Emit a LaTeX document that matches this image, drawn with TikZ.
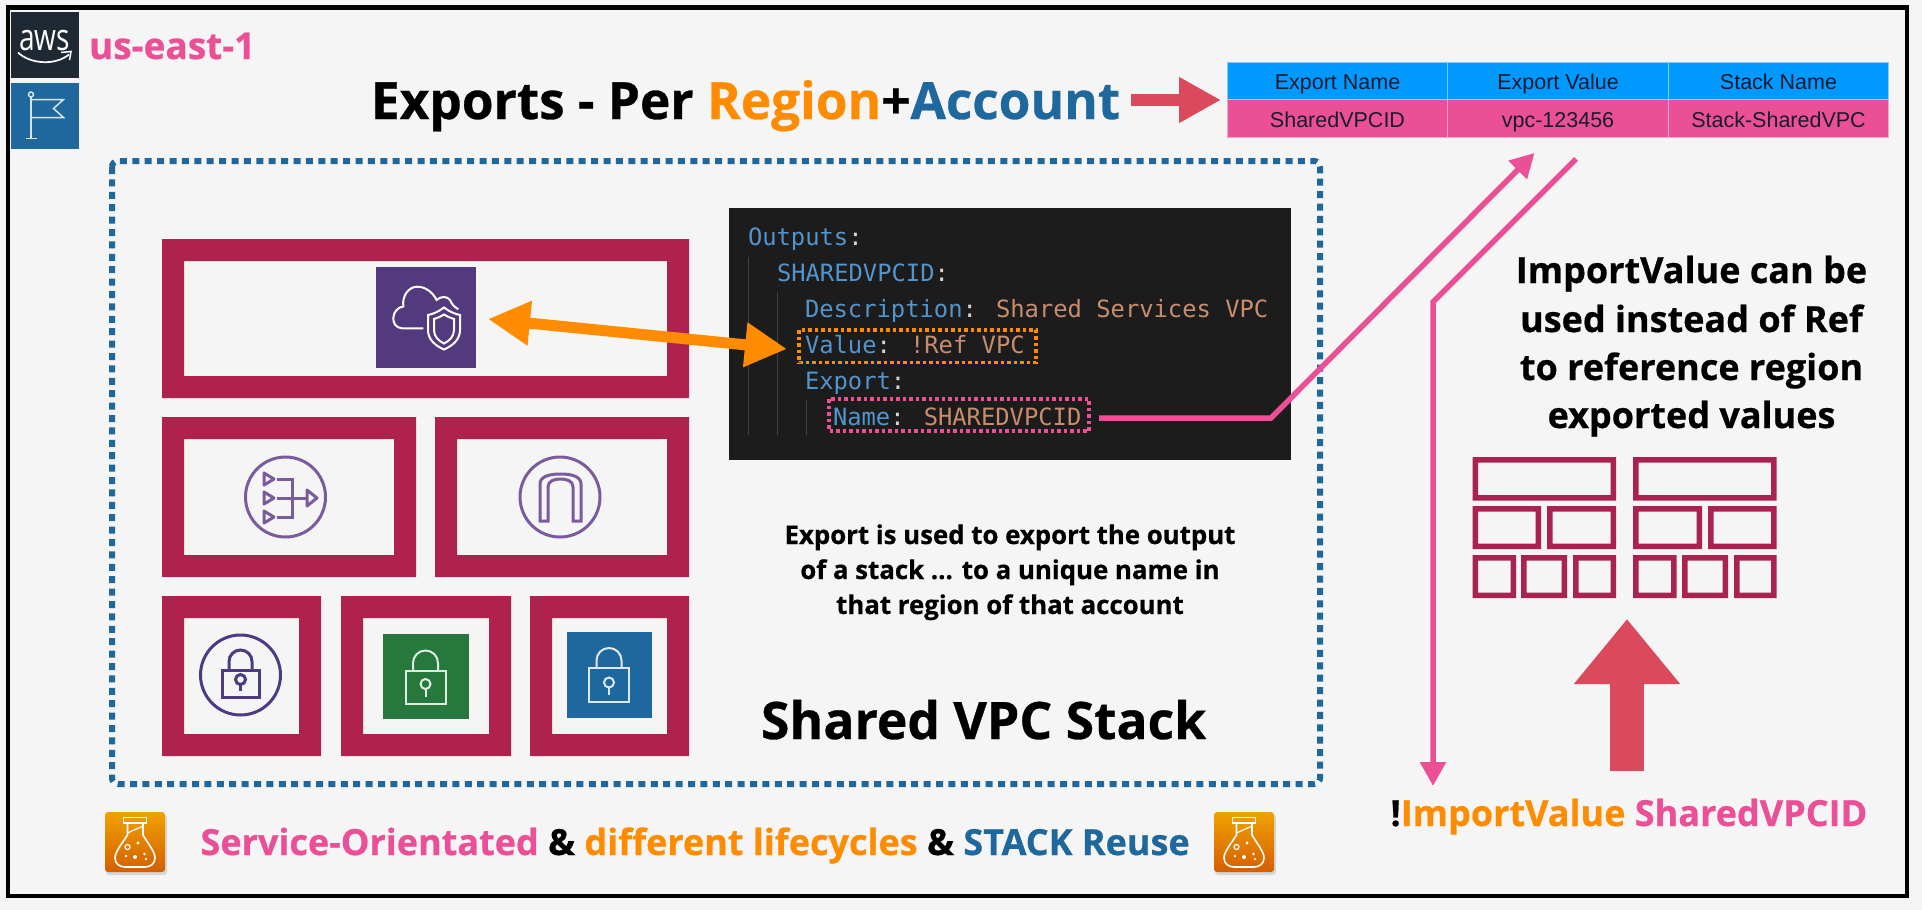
\documentclass[tikz,border=0pt]{standalone}
\usepackage{fontspec}
\usetikzlibrary{arrows.meta}
\setmainfont{Open Sans}[BoldFeatures={FakeBold=0.6}]
\newfontfamily\codefont{DejaVu Sans Mono}
\newfontfamily\tablefont{Liberation Sans}
\newcommand\fsz[1]{\fontsize{#1pt}{#1pt}\selectfont}
\definecolor{pagebg}{HTML}{F5F5F5}
\definecolor{awspink}{HTML}{EB5097}
\definecolor{awsorange}{HTML}{FF8C00}
\definecolor{awsblue}{HTML}{1F689E}
\definecolor{crimson}{HTML}{B0224E}
\definecolor{gridcrimson}{HTML}{AA2350}
\definecolor{arrowred}{HTML}{DB495C}
\definecolor{vpcpurple}{HTML}{533A7E}
\definecolor{iconpurple}{HTML}{7A5C9E}
\definecolor{lockpurple}{HTML}{4D3A82}
\definecolor{lockgreen}{HTML}{26783C}
\definecolor{codebg}{HTML}{1C1C1C}
\definecolor{codekey}{HTML}{5294CC}
\definecolor{codeval}{HTML}{C98D6E}
\definecolor{codecolon}{HTML}{D4D4D4}
\definecolor{guide}{HTML}{404040}
\definecolor{awsdark}{HTML}{1F2933}
\definecolor{headblue}{HTML}{0099FF}
\definecolor{tabletext}{HTML}{1A1A2A}
\definecolor{flasktop}{HTML}{F0A200}
\definecolor{flaskbot}{HTML}{D45E00}
\tikzset{
  lbl/.style={inner sep=0pt,outer sep=0pt,anchor=base west,font=\bfseries},
  mid/.style={inner sep=0pt,outer sep=0pt,anchor=base,align=center,font=\bfseries},
  code/.style={inner sep=0pt,outer sep=0pt,anchor=base west,font=\codefont\fsz{23.8}},
  headcell/.style={draw=white!50!headblue,line width=1pt,fill=headblue,minimum width=220.5pt,minimum height=37.5pt,inner sep=0pt,text height=20pt,text depth=3.4pt,font=\tablefont\fsz{21.5},text=tabletext},
  rowcell/.style={draw=white!50!awspink,line width=1pt,fill=awspink,minimum width=220.5pt,minimum height=37.5pt,inner sep=0pt,text height=20pt,text depth=3pt,font=\tablefont\fsz{21.5},text=tabletext},
  pinkline/.style={draw=awspink,line width=5.5pt},
  pinktip/.style={-{Triangle[length=24pt,width=25pt]}},
  flat/.style={draw=arrowred},
  dotblue/.style={draw=awsblue,line width=6pt,dash pattern=on 7pt off 5.4pt,rounded corners=6pt},
  icon/.style={draw=iconpurple,line width=3pt},
  whiteicon/.style={draw=white,line width=2pt},
}
% ringbox: colour, x1,y1,x2,y2, thickness
\newcommand\ringbox[6]{\fill[#1,even odd rule] (#2,#3) rectangle (#4,#5)
  (#2+#6,#3+#6) rectangle (#4-#6,#5-#6);}
% lockicon: style, centre x, body half width, shackle half width, shackle top, body top, body bottom, keyhole y, stem bottom
\newcommand\lockicon[9]{%
  \draw[#1] (#2-#3,#6) rectangle (#2+#3,#7);
  \draw[#1] (#2-#4,#6) -- (#2-#4,#5+#4) arc[start angle=180,end angle=0,radius=#4 pt] -- (#2+#4,#6);
  \draw[#1] (#2,#8) circle[radius=5pt];
  \draw[#1] (#2,#8+5) -- (#2,#9);
}
% flask icon at centre
\newcommand\flask[3]{%
  \fill[black,opacity=.12,rounded corners=3pt] (#2-29,#3-27) rectangle (#2+32,#3+33);
  \shade[top color=flasktop,bottom color=flaskbot,rounded corners=3pt] (#2-30,#3-30) rectangle (#2+30,#3+30);
  \begin{scope}[shift={(#2,#3)}]
    \draw[whiteicon,line width=1.6pt] (-11.5,-24.5) rectangle (11.5,-19);
    \draw[whiteicon,line width=1.6pt] (-7.5,-19) -- (-7.5,-7) .. controls (-14,3) and (-20,10) .. (-20,16) .. controls (-20,22) and (-15,25) .. (-10,25) -- (10,25) .. controls (15,25) and (20,22) .. (20,16) .. controls (20,10) and (14,3) .. (8,-7) -- (8,-19);
    \draw[whiteicon,line width=1.2pt] (-7.5,-9) -- (8,-16);
    \draw[whiteicon,line width=1.2pt] (-7.5,5) circle[radius=2.5pt];
    \fill[white] (3,1) circle[radius=1.6pt] (-9,14) circle[radius=1.3pt] (0,15) circle[radius=2pt] (9.5,12) circle[radius=1.3pt] (11,17) circle[radius=1.3pt];
  \end{scope}
}
\begin{document}
\begin{tikzpicture}[x=1pt,y=-1pt]
\useasboundingbox (0,0) rectangle (1922,910);
\fill[pagebg] (0,0) rectangle (1922,910);
\draw[black,line width=4.5pt] (8,7.5) rectangle (1907,896);

% AWS badge
\fill[awsdark] (11,12) rectangle (78.5,78);
\node[inner sep=0pt,anchor=base,text=white] (awstext) at (44.5,50) {\fsz{38}\scalebox{.74}[.98]{aws}};
\draw[white,line width=1.7pt] (18,52.5) .. controls (30,64) and (55,66) .. (69,54.5);
\draw[white,line width=1.5pt] (61,52.5) -- (71,51.5) -- (69.5,60);
\fill[awsblue] (11,83) rectangle (78.5,149);
\begin{scope}[draw=white!82!awsblue,line width=1.5pt]
  \draw (31,97) -- (31,138.5) (26,138.5) -- (37,138.5);
  \draw (31,94.5) circle[radius=2.5pt];
  \draw (31,99.5) -- (63.5,99.5) -- (53.5,108.5) -- (63.5,117.5) -- (31,117.5);
\end{scope}
\node[lbl,text=awspink] (region) at (89,59) {\fsz{37}us-east-1};

% title
\node[lbl] (title) at (371,119) {\fsz{51.3}Exports - Per \textcolor{awsorange}{Region}+\textcolor{awsblue}{Account}};
\coordinate (tarrowa) at (1131,100);
\coordinate (tarrowb) at (1221,100);
\draw[flat,line width=12pt,-{Triangle[length=42pt,width=43pt]}] (tarrowa) -- (tarrowb);

% table
\node[headcell] (h1) at (1337.5,81) {Export Name};
\node[headcell] (h2) at (1558,81) {Export Value};
\node[headcell] (h3) at (1778.5,81) {Stack Name};
\node[rowcell] (r1) at (1337.5,118.5) {SharedVPCID};
\node[rowcell] (r2) at (1558,118.5) {vpc-123456};
\node[rowcell] (r3) at (1778.5,118.5) {Stack-SharedVPC};

% stack outline
\draw[dotblue] (112,161) rectangle (1320,784);

% crimson boxes
\ringbox{crimson}{162}{239}{689}{398}{22}
\ringbox{crimson}{162}{417}{416}{577}{22}
\ringbox{crimson}{435}{417}{689}{577}{22}
\ringbox{crimson}{162}{596}{321}{756}{22}
\ringbox{crimson}{341}{596}{511}{756}{22}
\ringbox{crimson}{530}{596}{689}{756}{22}

% VPC icon
\fill[vpcpurple] (375.5,267) rectangle (476,367.5);
\draw[whiteicon,rounded corners=0pt] (423.3,328.3) -- (402,328.3) .. controls (396,328) and (393,323) .. (393.3,318) .. controls (393.5,312) and (398,307) .. (403.3,306.5) .. controls (402,295) and (409,287) .. (417,286.7) .. controls (426,286.5) and (433,293) .. (436.7,300) .. controls (441,296) and (447,296) .. (450,300) .. controls (452,304) and (453,306) .. (458.3,309.3);
\draw[whiteicon,fill=vpcpurple] (444,307.5) .. controls (438,312) and (433,314) .. (428,315) -- (428,330) .. controls (428,340) and (436,346) .. (444,349.5) .. controls (452,346) and (460,340) .. (460,330) -- (460,315) .. controls (455,314) and (450,312) .. (444,307.5) -- cycle;
\draw[whiteicon] (444,314.5) .. controls (440,317) and (437,318) .. (434,319) -- (434,330) .. controls (434,337) and (439,341) .. (444,343.5) .. controls (449,341) and (454,337) .. (454,330) -- (454,319) .. controls (451,318) and (448,317) .. (444,314.5) -- cycle;

% NAT icon
\draw[icon] (285.5,497) circle[radius=40pt];
\draw[icon,line join=round] (264,473) -- (274,479) -- (264,485) -- cycle;
\draw[icon,line join=round] (264,492) -- (274,498) -- (264,504) -- cycle;
\draw[icon,line join=round] (264,511) -- (274,517) -- (264,523) -- cycle;
\draw[icon] (277,479) -- (292,479) -- (292,517) -- (277,517);
\draw[icon] (277,498) -- (307,498);
\draw[icon,line join=round] (307,490) -- (317,498) -- (307,506) -- cycle;

% gateway icon
\draw[icon] (560,497) circle[radius=40pt];
\draw[icon] (540,521) -- (540,484) .. controls (540,477) and (548,474) .. (560.5,474) .. controls (573,474) and (581,477) .. (581,484) -- (581,521) -- (573,521) -- (573,487) .. controls (573,481) and (567,479) .. (560.5,479) .. controls (554,479) and (548,481) .. (548,487) -- (548,521) -- cycle;

% lock icons
\draw[draw=lockpurple,line width=3pt] (240.5,675) circle[radius=40pt];
\lockicon{draw=lockpurple,line width=3pt}{240.5}{18.5}{11.5}{650}{670}{697}{679.5}{691}
\fill[lockgreen] (382.5,634) rectangle (468.5,719);
\lockicon{draw=white!85!lockgreen,line width=2pt}{425.5}{20}{12.5}{650.5}{671}{704}{684}{697}
\fill[awsblue] (566.5,632) rectangle (652,718);
\lockicon{draw=white!85!awsblue,line width=2pt}{609}{20}{12.5}{648}{668}{702}{682.5}{695}

% code panel
\fill[codebg] (728.5,208) rectangle (1290.5,460);
\draw[guide,line width=1pt] (748,257) -- (748,435) (777,292) -- (777,435) (806,400) -- (806,435);
\node[code] (c1) at (748,245) {\textcolor{codekey}{Outputs}\textcolor{codecolon}{:}};
\node[code] (c2) at (777,281.5) {\textcolor{codekey}{SHAREDVPCID}\textcolor{codecolon}{:}};
\node[code] (c3) at (805,317.5) {\textcolor{codekey}{Description}\textcolor{codecolon}{:} \textcolor{codeval}{Shared Services VPC}};
\node[code] (c4) at (805,353.5) {\textcolor{codekey}{Value}\textcolor{codecolon}{:} \textcolor{codeval}{!Ref VPC}};
\node[code] (c5) at (805,389.5) {\textcolor{codekey}{Export}\textcolor{codecolon}{:}};
\node[code] (c6) at (833,425) {\textcolor{codekey}{Name}\textcolor{codecolon}{:} \textcolor{codeval}{SHAREDVPCID}};
\draw[draw=awsorange,line width=3.4pt,dash pattern=on 3.5pt off 3pt] (799,330) rectangle (1036,362.5);
\draw[draw=awspink,line width=3.4pt,dash pattern=on 3.5pt off 3pt] (829,399) rectangle (1089,431);

% orange double arrow
\coordinate (oa) at (488,319);
\coordinate (ob) at (787,349);
\draw[draw=awsorange,line width=11pt,{Triangle[length=42pt,width=42pt]}-{Triangle[length=42pt,width=42pt]}] (oa) -- (ob);

% pink export line
\coordinate (pa) at (1099,418);
\coordinate (pb) at (1271,418);
\coordinate (pc) at (1534.5,153);
\draw[pinkline,pinktip] (pa) -- (pb) -- (pc);

% pink import line
\coordinate (qa) at (1576,159);
\coordinate (qb) at (1433,302);
\coordinate (qc) at (1433,786);
\draw[pinkline,pinktip] (qa) -- (qb) -- (qc);

% explanatory text
\node[mid] (e1) at (1010,544) {\fsz{25.8}Export is used to export the output};
\node[mid] (e2) at (1010,579) {\fsz{25.8}of a stack ... to a unique name in};
\node[mid] (e3) at (1010,614) {\fsz{25.8}that region of that account};
\node[lbl] (stack) at (761,739) {\fsz{51.6}Shared VPC Stack};

\node[mid] (i1) at (1691.5,283) {\fsz{36}ImportValue can be};
\node[mid] (i2) at (1691.5,332) {\fsz{36}used instead of Ref};
\node[mid] (i3) at (1691.5,380) {\fsz{36}to reference region};
\node[mid] (i4) at (1691.5,428) {\fsz{36}exported values};

% mini grid
\ringbox{gridcrimson}{1472.5}{457}{1616}{500.5}{5.5}
\ringbox{gridcrimson}{1633}{457}{1776.5}{500.5}{5.5}
\ringbox{gridcrimson}{1472.5}{506}{1541}{549}{5.5}
\ringbox{gridcrimson}{1547}{506}{1616}{549}{5.5}
\ringbox{gridcrimson}{1633}{506}{1702}{549}{5.5}
\ringbox{gridcrimson}{1708}{506}{1776.5}{549}{5.5}
\ringbox{gridcrimson}{1472.5}{555}{1516}{598}{5.5}
\ringbox{gridcrimson}{1521}{555}{1567}{598}{5.5}
\ringbox{gridcrimson}{1573}{555}{1616}{598}{5.5}
\ringbox{gridcrimson}{1633}{555}{1676.5}{598}{5.5}
\ringbox{gridcrimson}{1682}{555}{1728}{598}{5.5}
\ringbox{gridcrimson}{1734}{555}{1776.5}{598}{5.5}

% red up arrow
\coordinate (ua) at (1627,771);
\coordinate (ub) at (1627,619);
\draw[flat,line width=33.5pt,-{Triangle[length=65pt,width=102pt]}] (ua) -- (ub);

\node[lbl] (imp) at (1390.5,826) {\fsz{36}!\textcolor{awsorange}{ImportValue} \textcolor{awspink}{SharedVPCID}};

% footer
\flask{flaskL}{135}{842}
\flask{flaskR}{1244}{842}
\node[lbl] (foot) at (200.5,855) {\fsz{36}\textcolor{awspink}{Service-Orientated} \& \textcolor{awsorange}{different lifecycles} \& \textcolor{awsblue}{STACK Reuse}};
\end{tikzpicture}
\end{document}
